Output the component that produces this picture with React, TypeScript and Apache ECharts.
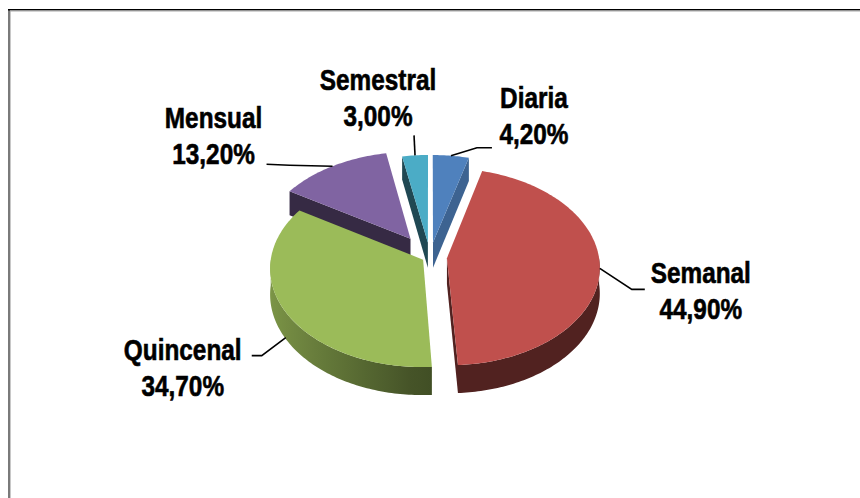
import React, { useEffect, useRef } from "react";
import * as echarts from "echarts";

// ---- data ----
const categories = ["Diaria", "Semanal", "Quincenal", "Mensual", "Semestral"];
const values = [4.2, 44.9, 34.7, 13.2, 3.0];

// ---- style ----
const colors = ["#4F81BD", "#C0504D", "#9BBB59", "#8064A2", "#4BACC6"];
const explode = [23, 17, 8, 35, 23];
const anchorDepth = [0, 0, 0.95, 0, 0];
const leaderBends: number[][][] = [
  [[26, -8], [41, -8]],
  [[32, 21], [45, 21]],
  [[-24, 18], [-34, 18]],
  [[-43, -1], [-66, -2]],
  [[-1, -20]],
];
const labelOffsets = [[83, -40], [101, 22], [-103, 30], [-119, -31], [-37, -58]];

const W = 860;
const H = 498;
const CX = 430;
const CY = 257;
const R = 152;
const Q = 0.642; // vertical foreshortening
const PERSP = 0.0875; // perspective
const THICK = 25.5;

function shade(hex: string, f: number): string {
  const n = parseInt(hex.slice(1), 16);
  const r = Math.round(((n >> 16) & 255) * f);
  const g = Math.round(((n >> 8) & 255) * f);
  const b = Math.round((n & 255) * f);
  return `rgb(${r},${g},${b})`;
}

function fmt(v: number): string {
  return v.toFixed(2).replace(".", ",") + "%";
}

export default function App() {
  const ref = useRef<HTMLDivElement>(null);
  useEffect(() => {
    if (!ref.current) return;
    const chart = echarts.init(ref.current, undefined, { renderer: "svg" });
    const total = values.reduce((a, b) => a + b, 0);

    const renderItem = (params: any, api: any) => {
      const i = params.dataIndex;
      const val = api.value(0);
      let before = 0;
      for (let j = 0; j < i; j++) before += values[j];
      const a0 = (before / total) * 360;
      const a1 = ((before + val) / total) * 360;
      const mid = ((a0 + a1) / 2) * Math.PI / 180;
      const e = explode[i];
      const ou = e * Math.sin(mid);
      const ov = e * Math.cos(mid);
      const P = (ang: number, r: number, z: number) => {
        const t = (ang * Math.PI) / 180;
        const u = ou + r * Math.sin(t);
        const v = ov + r * Math.cos(t);
        const k = 1 / (1 + (PERSP * v) / R);
        return [CX + u * k, CY - v * Q * k + z * THICK * k];
      };
      const V = (ang: number, r: number) => ov + r * Math.cos((ang * Math.PI) / 180);
      const arc = (s: number, t: number, z: number) => {
        const pts: number[][] = [];
        const n = Math.max(2, Math.ceil(Math.abs(t - s) / 1));
        for (let k = 0; k <= n; k++) pts.push(P(s + ((t - s) * k) / n, R, z));
        return pts;
      };
      const base = colors[i];
      const children: any[] = [];

      // outer wall (front part)
      const s = Math.max(a0, 90);
      const t = Math.min(a1, 270);
      if (t > s) {
        const top = arc(s, t, 0);
        const bot = arc(s, t, 1).reverse();
        const xs = top.map((p) => p[0]);
        const xmin = Math.min(...xs);
        const xmax = Math.max(...xs);
        const stops: any[] = [];
        const n = 12;
        for (let k = n; k >= 0; k--) {
          const ang = s + ((t - s) * k) / n;
          const x = P(ang, R, 0)[0];
          const f = 0.42 + 0.38 * Math.max(0, -Math.sin((ang * Math.PI) / 180));
          stops.push({ offset: xmax > xmin ? Math.min(1, Math.max(0, (x - xmin) / (xmax - xmin))) : 0, color: shade(base, f) });
        }
        stops.sort((a, b) => a.offset - b.offset);
        const vmean = V((s + t) / 2, R);
        children.push({
          type: "polygon",
          shape: { points: top.concat(bot) },
          style: {
            fill: { type: "linear", x: xmin, y: 0, x2: xmax, y2: 0, colorStops: stops, global: true },
          },
          z2: Math.round(1000 - vmean),
        });
      }
      // start cut face
      if (Math.sin((a0 * Math.PI) / 180) < -1e-6) {
        children.push({
          type: "polygon",
          shape: { points: [P(a0, 0, 0), P(a0, R, 0), P(a0, R, 1), P(a0, 0, 1)] },
          style: { fill: shade(base, 0.42) },
          z2: Math.round(1000 - V(a0, R / 2)),
        });
      }
      // end cut face
      if (Math.sin((a1 * Math.PI) / 180) > 1e-6) {
        const f = 0.42 + 0.36 * Math.max(0, Math.cos((a1 * Math.PI) / 180));
        children.push({
          type: "polygon",
          shape: { points: [P(a1, 0, 0), P(a1, R, 0), P(a1, R, 1), P(a1, 0, 1)] },
          style: { fill: shade(base, f) },
          z2: Math.round(1000 - V(a1, R / 2)),
        });
      }
      // top face
      children.push({
        type: "polygon",
        shape: { points: [P(0, 0, 0)].concat(arc(a0, a1, 0)) },
        style: { fill: base },
        z2: 3000,
      });

      // label + leader
      const midDeg = (a0 + a1) / 2;
      const anc = P(midDeg, R, anchorDepth[i]);
      const pts = [anc].concat(leaderBends[i].map((b) => [anc[0] + b[0], anc[1] + b[1]]));
      children.push({
        type: "polyline",
        shape: { points: pts },
        style: { stroke: "#000", lineWidth: 1.6, fill: null },
        z2: 4000,
      });
      children.push({
        type: "text",
        x: anc[0] + labelOffsets[i][0],
        y: anc[1] + labelOffsets[i][1],
        scaleX: 0.84,
        scaleY: 1.03,
        style: {
          text: `${categories[i]}\n${fmt(val)}`,
          fill: "#000",
          stroke: "#000",
          lineWidth: 0.6,
          fontFamily: '"Liberation Sans", Arial, sans-serif',
          fontWeight: "bold",
          fontSize: 29,
          lineHeight: 35,
          align: "center",
          verticalAlign: "middle",
        },
        z2: 4001,
      });
      return { type: "group", children };
    };

    chart.setOption({
      animation: false,
      backgroundColor: "#ffffff",
      graphic: [
        { type: "rect", shape: { x: 8, y: 9, width: 2, height: H - 9 }, style: { fill: "#7a7a7a" }, silent: true },
        { type: "rect", shape: { x: 10, y: 11, width: 1, height: H - 11 }, style: { fill: "#c8c8c8" }, silent: true },
        { type: "rect", shape: { x: 8, y: 9, width: W - 8, height: 1.5 }, style: { fill: "#000000" }, silent: true },
        { type: "rect", shape: { x: 10, y: 10.5, width: W - 10, height: 1 }, style: { fill: "#a8a8a8" }, silent: true },
      ],
      series: [
        {
          type: "custom",
          coordinateSystem: "none",
          silent: true,
          data: values.map((v, i) => ({ name: categories[i], value: v })),
          renderItem,
        },
      ],
    });
    return () => chart.dispose();
  }, []);
  return (
    <div
      ref={ref}
      style={{ position: "fixed", left: 0, top: 0, width: W, height: H, background: "#fff" }}
    />
  );
}
